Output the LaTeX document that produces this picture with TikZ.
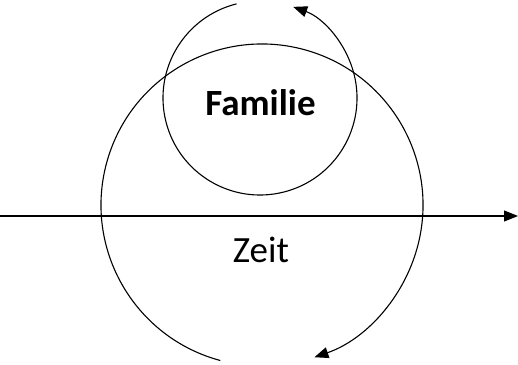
\documentclass[tikz,border=0pt]{standalone}
\usepackage{fontspec}
\setmainfont{Carlito}
\usetikzlibrary{arrows.meta}
\begin{document}
\begin{tikzpicture}[x=1pt,y=1pt,
  line/.style={line width=1.1pt, black},
  tip/.style={-{Triangle[length=14pt,width=11pt]}},
  lbl/.style={font=\fontsize{37}{40}\selectfont, inner sep=0pt, anchor=base}]
\useasboundingbox (0,0) rectangle (518,364);
\coordinate (smallC) at (260,266);
\coordinate (bigC) at (262,159);
\coordinate (axL) at (0,148);
\coordinate (axR) at (518,148);
% small circle arc (Familie)
\draw[line,tip] ([shift={(104:97)}]smallC) arc[start angle=104, end angle=430, radius=97];
% large circle arc
\draw[line,tip] ([shift={(255:161)}]bigC) arc[start angle=255, end angle=-71, radius=161];
% time axis
\draw[line,tip] (axL) -- (axR);
\node[lbl] (familie) at (260.5,248) {\bfseries Familie};
\node[lbl] (zeit) at (261,102) {Zeit};
\end{tikzpicture}
\end{document}
